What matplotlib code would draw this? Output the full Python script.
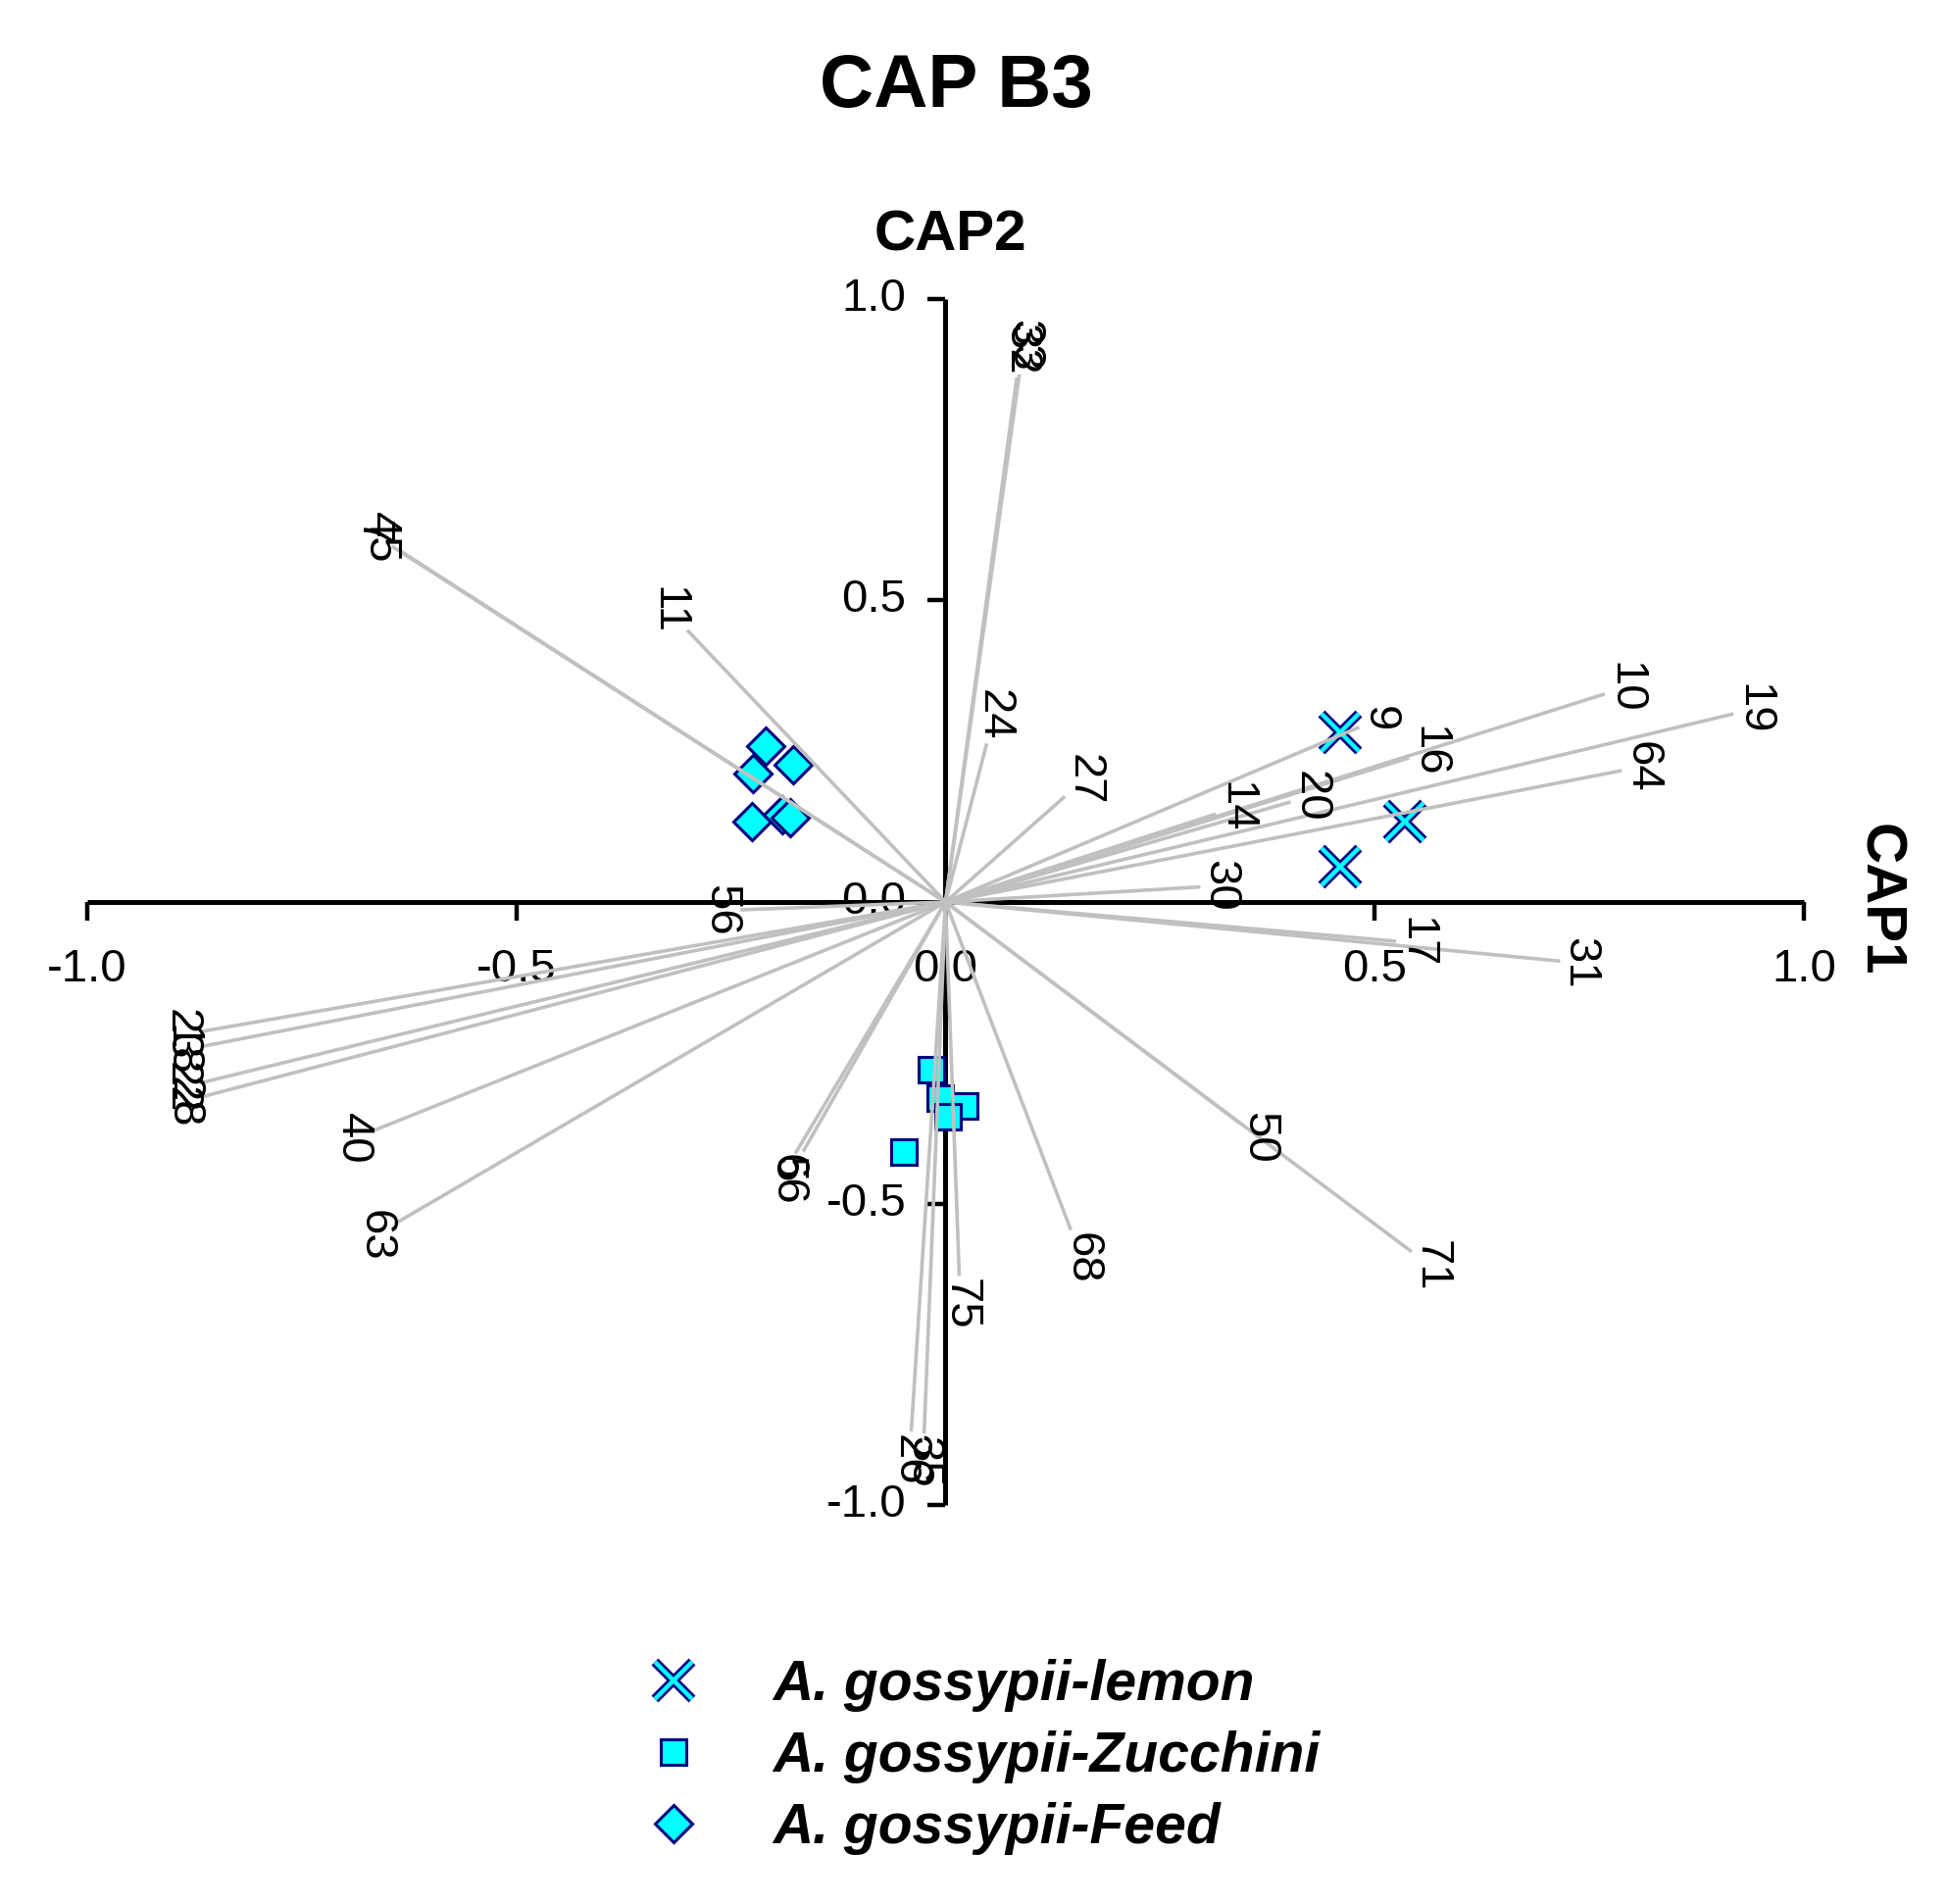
import matplotlib
matplotlib.use('Agg')
import matplotlib.pyplot as plt
import numpy as np
from matplotlib.lines import Line2D
from matplotlib.legend_handler import HandlerTuple

plt.rcParams['font.family'] = ['Liberation Sans', 'DejaVu Sans']

# ---- data ----
vec_labels = ['32', '33', '24', '27', '10', '19', '64', '16', '9', '14', '20', '30',
              '17', '31', '50', '71', '68', '75', '26', '35', '5', '66', '56', '11',
              '45', '7', '23', '18', '22', '28', '40', '63']
vec_x = [0.083, 0.086, 0.048, 0.139, 0.768, 0.918, 0.788, 0.540, 0.482, 0.315, 0.402, 0.297,
         0.525, 0.716, 0.343, 0.543, 0.146, 0.016, -0.040, -0.025, -0.175, -0.166, -0.239, -0.301,
         -0.636, -0.645, -0.868, -0.868, -0.868, -0.866, -0.668, -0.642]
vec_y = [0.870, 0.875, 0.263, 0.175, 0.345, 0.312, 0.218, 0.239, 0.290, 0.146, 0.166, 0.025,
         -0.065, -0.098, -0.367, -0.580, -0.544, -0.620, -0.878, -0.882, -0.417, -0.414, -0.013, 0.451,
         0.583, 0.590, -0.215, -0.240, -0.300, -0.323, -0.380, -0.534]

lemon_x = [0.460, 0.535, 0.460]
lemon_y = [0.282, 0.133, 0.058]
zucchini_x = [-0.017, -0.006, 0.022, 0.003, -0.049]
zucchini_y = [-0.278, -0.325, -0.338, -0.356, -0.414]
feed_x = [-0.210, -0.178, -0.225, -0.226, -0.190, -0.181]
feed_y = [0.258, 0.227, 0.213, 0.133, 0.144, 0.140]

tick_vals = [-1.0, -0.5, 0.0, 0.5, 1.0]
tick_labels = ['-1.0', '-0.5', '0.0', '0.5', '1.0']
group_names = ['A. gossypii-lemon', 'A. gossypii-Zucchini', 'A. gossypii-Feed']

# ---- figure ----
W, H = 1986, 1942
fig = plt.figure(figsize=(W / 100, H / 100), dpi=100)
ax = fig.add_axes([89 / W, 1 - 1535 / H, 1751 / W, 1230 / H])
ax.set_xlim(-1, 1)
ax.set_ylim(-1, 1)
ax.axis('off')

CYAN = '#00FFFF'
NAVY = '#000080'
GRAY = '#C0C0C0'

# axes lines
ax.plot([-1, 1], [0, 0], color='black', lw=3.6, solid_capstyle='butt', zorder=1, clip_on=False)
ax.plot([0, 0], [-1, 1], color='black', lw=3.6, solid_capstyle='butt', zorder=1, clip_on=False)
xt = [v for v in tick_vals if v != 0]
ax.plot(xt, [0] * len(xt), ls='none', marker=3, ms=14, mew=3.2, color='black', zorder=1, clip_on=False)
ax.plot([0] * len(xt), xt, ls='none', marker=0, ms=13, mew=3.2, color='black', zorder=1, clip_on=False)

# tick labels
for v, s in zip(tick_vals, tick_labels):
    ax.annotate(s, (v, 0), xytext=(0, -50), textcoords='offset points', ha='center', va='center',
                fontsize=34, zorder=0.5, annotation_clip=False)
    ax.annotate(s, (0, v), xytext=(-29, 0), textcoords='offset points', ha='right', va='center',
                fontsize=34, zorder=0.5, annotation_clip=False)

# markers
ax.plot(lemon_x, lemon_y, ls='none', marker='x', ms=28, mew=7, color=NAVY, zorder=2, clip_on=False)
ax.plot(lemon_x, lemon_y, ls='none', marker='x', ms=28, mew=3.2, color=CYAN, zorder=2.1, clip_on=False)
ax.plot(zucchini_x, zucchini_y, ls='none', marker='s', ms=19, mfc=CYAN, mec=NAVY, mew=2.2, zorder=2, clip_on=False)
ax.plot(feed_x, feed_y, ls='none', marker='D', ms=19.5, mfc=CYAN, mec=NAVY, mew=2.2, zorder=2, clip_on=False)

# vectors
SX, SY = 875.5, 616.0
fs_lab = 34
for lab, x, y in zip(vec_labels, vec_x, vec_y):
    ax.plot([0, x], [0, y], color=GRAY, lw=2.6, zorder=3, solid_capstyle='butt', clip_on=False)
    dx, dy = x * SX, y * SY
    n = np.hypot(dx, dy)
    ux, uy = dx / n, dy / n
    hw = 12.5
    hh = len(lab) * 0.556 * fs_lab / 2
    t = min(hw / max(abs(ux), 1e-6), hh / max(abs(uy), 1e-6)) + 2
    ax.annotate(lab, (x, y), xytext=(ux * t, uy * t), textcoords='offset points',
                rotation=270, ha='center', va='center', fontsize=fs_lab, zorder=4,
                annotation_clip=False)

# titles
fig.text(975 / W, 1 - 89 / H, 'CAP B3', ha='center', va='center', fontsize=55, fontweight='bold')
fig.text(969 / W, 1 - 241 / H, 'CAP2', ha='center', va='center', fontsize=42, fontweight='bold')
fig.text(1916 / W, 1 - 918 / H, 'CAP1', ha='center', va='center', fontsize=42, fontweight='bold',
         rotation=270)

# legend
h_lemon = (Line2D([], [], ls='none', marker='x', ms=28, mew=7, color=NAVY),
           Line2D([], [], ls='none', marker='x', ms=28, mew=3.2, color=CYAN))
h_zuc = Line2D([], [], ls='none', marker='s', ms=19, mfc=CYAN, mec=NAVY, mew=2.2)
h_feed = Line2D([], [], ls='none', marker='D', ms=19.5, mfc=CYAN, mec=NAVY, mew=2.2)
fig.legend([h_lemon, h_zuc, h_feed], group_names,
           handler_map={tuple: HandlerTuple(ndivide=1)},
           loc='center left', bbox_to_anchor=(660 / W, 1 - 1792 / H),
           frameon=False, borderpad=0, borderaxespad=0,
           handlelength=0.95, handletextpad=1.3, labelspacing=0.33,
           prop={'size': 41, 'weight': 'bold', 'style': 'italic'})

fig.savefig('out.png', dpi=100)
